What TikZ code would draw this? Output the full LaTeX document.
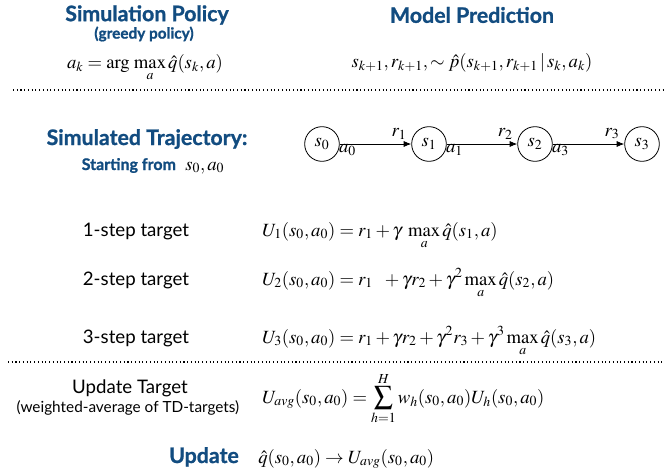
\documentclass[tikz,border=0pt]{standalone}
\usepackage{mathptmx}
\usepackage{fontspec}
\setmainfont{Liberation Serif}
\setsansfont{Lato}
\newfontfamily\headfont{Lato}[BoldFeatures={FakeBold=1}]
\usetikzlibrary{arrows.meta,positioning}
\definecolor{navy}{RGB}{18,76,128}
\tikzset{
  head/.style={font=\headfont\bfseries\fontsize{16}{18}\selectfont,text=navy},
  subhead/.style={font=\headfont\bfseries\fontsize{11.5}{13}\selectfont,text=navy},
  lab/.style={font=\sffamily\fontsize{14}{16}\selectfont},
  small/.style={font=\sffamily\fontsize{11.5}{13}\selectfont},
  eqn/.style={font=\fontsize{14}{16}\selectfont,inner sep=0pt},
  st/.style={circle,draw,semithick,minimum size=26pt,inner sep=0pt,font=\fontsize{14}{16}\selectfont},
  arr/.style={-{Latex[length=2mm,width=1.6mm]},semithick},
  lbl/.style={font=\fontsize{14}{16}\selectfont},
  sep/.style={dotted,thick}
}

\begin{document}
\begin{tikzpicture}[x=0.75pt,y=-0.75pt]
  \useasboundingbox (0,0) rectangle (666,475);
  % policy and model
  \node[head] (pol) at (147,15) {Simulation Policy};
  \node[subhead] (greedy) at (144,34) {(greedy policy)};
  \node[eqn,anchor=base] (poleq) at (145,68) {$\displaystyle a_k=\arg\,\max_a \hat{q}(s_k,a)$};
  \node[head] (model) at (472,15) {Model Prediction};
  \node[eqn,anchor=base] (modeq) at (472,67) {$s_{k+1}, r_{k+1}, \sim \hat{p}(s_{k+1}, r_{k+1}\,|\,s_k,a_k)$};
  \draw[sep] (13,90) -- (664,90);

  % trajectory
  \node[head] (traj) at (147,139) {Simulated Trajectory:};
  \node[eqn,anchor=base] (start) at (153,170) {{\headfont\bfseries\fontsize{12}{14}\selectfont\color{navy}Starting from}\enspace$s_0,a_0$};
  \foreach \i/\x in {0/322,1/429,2/535,3/642}
    \node[st] (s\i) at (\x,144) {$s_\i$};
  \foreach \i/\j/\r/\a in {0/1/1/0,1/2/2/1,2/3/3/3}
    \draw[arr] (s\i) -- node[lbl,pos=.83,above]{$r_\r$} node[lbl,pos=.11,below,inner sep=0pt]{$a_\a$} (s\j);

  % n-step targets
  \node[lab,anchor=base] (t1) at (136,236) {1-step target};
  \node[eqn,anchor=base west] (u1) at (262,236) {$\displaystyle U_1(s_0,a_0)=r_1+\gamma\;\max_a \hat{q}(s_1,a)$};
  \node[lab,anchor=base] (t2) at (136,285) {2-step target};
  \node[eqn,anchor=base west] (u2) at (262,285) {$\displaystyle U_2(s_0,a_0)=r_1\ \ +\gamma r_2+\gamma^2\max_a \hat{q}(s_2,a)$};
  \node[lab,anchor=base] (t3) at (136,343) {3-step target};
  \node[eqn,anchor=base west] (u3) at (262,343) {$\displaystyle U_3(s_0,a_0)=r_1+\gamma r_2+\gamma^2 r_3+\gamma^3\max_a \hat{q}(s_3,a)$};
  \draw[sep] (8,362) -- (664,362);

  % averaged target and update
  \node[lab,anchor=base] (ut) at (130,393) {Update Target};
  \node[small] (wa) at (128,408) {(weighted-average of TD-targets)};
  \node[eqn,anchor=base west] (uavg) at (262,403) {$\displaystyle U_{avg}(s_0,a_0)=\sum_{h=1}^{H} w_h(s_0,a_0)U_h(s_0,a_0)$};
  \node[head,anchor=base] (upd) at (204,463) {Update};
  \node[eqn,anchor=base west] (updeq) at (258,463) {$\hat{q}(s_0,a_0)\rightarrow U_{avg}(s_0,a_0)$};
\end{tikzpicture}
\end{document}
